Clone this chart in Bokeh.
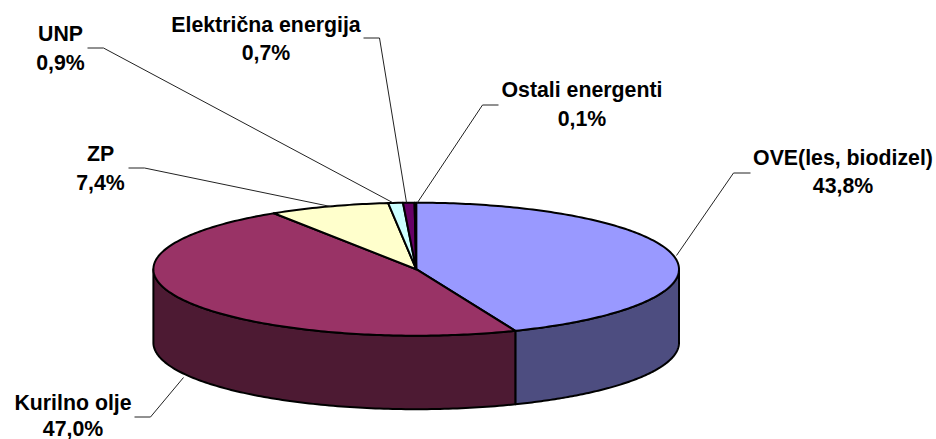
import math
import numpy as np
from bokeh.plotting import figure
from bokeh.models import Range1d
from bokeh.core.properties import value
from bokeh.embed import file_html
from bokeh.resources import INLINE

categories = ["OVE(les, biodizel)", "Kurilno olje", "ZP", "UNP", "Električna energija", "Ostali energenti"]
shares = [43.8, 47.0, 7.4, 0.9, 0.7, 0.1]
share_labels = ["43,8%", "47,0%", "7,4%", "0,9%", "0,7%", "0,1%"]
top_colors = ["#9999FF", "#993366", "#FFFFCC", "#CCFFFF", "#660066", "#FF8080"]
side_colors = ["#4D4D80", "#4D1A33", "#808066", "#668080", "#330033", "#804040"]

# layout (page pixels)
CX, CY, RX, RY, DEPTH = 415.7, 268.7, 262.8, 66.5, 73.5
label_x = [842.5, 72.5, 100, 60, 265.5, 581.5]
label_y1 = [157, 402, 153, 33, 24, 89]
label_y2 = [185, 428, 182, 62, 52, 118]
leaders_x = [[750, 733, 676], [134, 150, 183], [128, 144, 330], [87, 103, 392], [363, 379, 406], [498, 482, 417]]
leaders_y = [[172.5, 172.5, 255], [416.5, 416.5, 377], [167.5, 167.5, 206], [47.5, 47.5, 202], [37.5, 37.5, 202], [104.5, 104.5, 202]]

p = figure(width=936, height=439, x_range=Range1d(0, 936), y_range=Range1d(439, 0),
           output_backend="svg", toolbar_location=None, min_border=0)
p.axis.visible = False
p.xaxis.visible = False
p.yaxis.visible = False
p.grid.visible = False
p.outline_line_color = None


def ex(t):
    return CX + RX * np.sin(t)


def ey(t):
    return CY - RY * np.cos(t)


total = sum(shares)
edges = np.concatenate([[0], np.cumsum(shares)]) / total * 2 * math.pi

# visible outer wall
sx, sy, sc = [], [], []
for i in range(len(shares)):
    a = max(edges[i], math.pi / 2)
    b = min(edges[i + 1], 3 * math.pi / 2)
    if b <= a:
        continue
    t = np.linspace(a, b, 120)
    sx.append(list(ex(t)) + list(ex(t[::-1])))
    sy.append(list(ey(t)) + list(ey(t[::-1]) + DEPTH))
    sc.append(side_colors[i])
p.patches(sx, sy, fill_color=sc, line_color="black", line_width=2, line_join="round")

# top face
tx, ty = [], []
for i in range(len(shares)):
    t = np.linspace(edges[i], edges[i + 1], max(4, int(400 * shares[i] / total)))
    tx.append([CX] + list(ex(t)))
    ty.append([CY] + list(ey(t)))
p.patches(tx, ty, fill_color=top_colors, line_color="black", line_width=2, line_join="round")

# leaders
p.multi_line(leaders_x, leaders_y, line_color="#222222", line_width=1)

# labels
common = dict(text_font=value("Liberation Sans"), text_font_style="bold", text_font_size="21.3px",
              text_color="black", text_align="center", text_baseline="middle")
p.text(label_x, label_y1, text=categories, **common)
p.text(label_x, label_y2, text=share_labels, **common)

open("out.html", "w").write(file_html(p, INLINE))
